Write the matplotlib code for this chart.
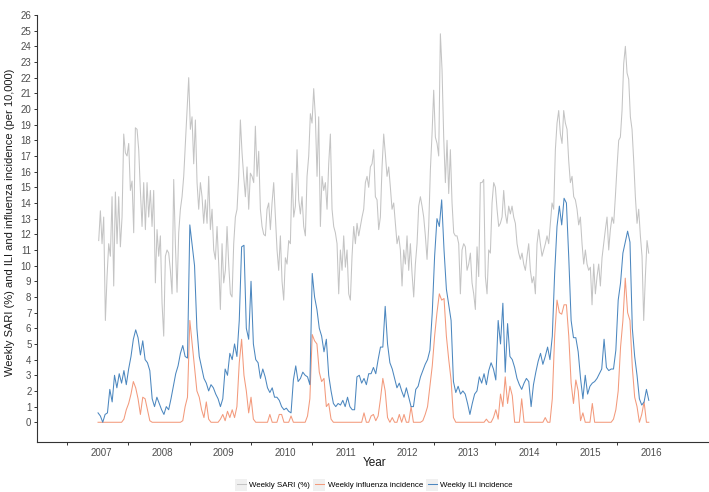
import matplotlib
matplotlib.use("Agg")
import matplotlib.pyplot as plt
from matplotlib.legend_handler import HandlerLine2D
from matplotlib.patches import Rectangle
import numpy as np

plt.rcParams['font.family'] = ['Liberation Sans', 'DejaVu Sans']

years = list(range(2007, 2017))

sari = [
    11.6, 13.5, 11.4, 13.1, 6.5, 9.3, 11.4, 10.6, 14.4, 8.7,
    14.7, 11.4, 14.4, 11.2, 13.1, 18.4, 17.2, 17.0, 17.8, 14.8,
    15.4, 12.1, 18.8, 18.7, 17.4, 14.8, 12.5, 15.3, 12.3, 15.3,
    13.1, 14.8, 12.5, 14.8, 8.9, 12.3, 10.6, 11.9, 7.6, 5.5,
    10.6, 11.0, 10.8, 9.7, 8.2, 15.5, 11.4, 8.3, 12.1, 13.6,
    14.4, 15.7, 17.8, 19.9, 22.0, 18.7, 19.5, 16.5, 19.3, 15.3,
    13.6, 15.3, 14.4, 12.7, 14.2, 12.7, 15.7, 12.3, 13.6, 11.0,
    10.4, 12.5, 10.1, 7.2, 11.4, 8.9, 9.7, 12.5, 10.1, 8.2,
    8.0, 11.4, 13.1, 13.6, 15.7, 19.3, 17.2, 15.7, 14.4, 16.3,
    13.6, 15.9, 15.7, 15.3, 18.9, 15.7, 17.3, 13.6, 12.5, 12.0,
    11.9, 13.6, 14.0, 12.3, 14.0, 15.3, 13.1, 11.0, 9.7, 11.9,
    9.0,
    7.8, 10.5, 10.1, 11.6, 11.4, 15.9, 13.1, 13.8, 17.4, 14.2,
    13.3, 14.4, 12.5, 11.9, 15.7, 17.0, 19.7, 19.1, 21.3, 19.5,
    15.7, 19.5, 12.5, 15.7, 14.8, 15.3, 13.6, 16.5, 18.4, 13.6,
    12.5, 12.1, 11.4, 8.2, 11.0, 9.7, 11.9, 9.9, 11.0, 8.2,
    7.8, 10.6, 12.5, 11.4, 12.7, 11.9, 12.5, 13.1, 13.6, 15.3,
    15.7, 15.0, 16.3, 16.5, 17.4, 14.4, 14.2, 12.3, 13.1, 16.3,
    18.4, 17.1, 15.7, 16.3, 15.0, 13.6, 14.0, 12.7, 11.4, 11.9,
    11.0, 8.7, 11.0, 10.1, 11.9, 9.7, 11.4, 9.5, 8.0, 10.1,
    11.4, 13.8, 14.4, 13.8, 13.1, 11.9, 10.4, 12.5, 16.1, 18.4,
    21.2, 18.2, 17.8, 17.0, 24.8, 22.5, 18.2, 15.3, 18.0, 14.6,
    17.4, 14.0, 12.1, 11.9, 11.9, 11.4, 8.2, 11.0, 11.4, 11.2,
    9.7,
    10.1, 10.8, 8.9, 8.2, 7.2, 11.2, 9.3, 15.3, 15.3, 15.5,
    9.3, 8.2, 11.0, 10.8, 14.0, 15.3, 15.0, 13.6, 12.5, 12.7,
    13.1, 14.8, 13.3, 12.7, 13.8, 13.3, 13.8, 13.1, 12.7, 11.4,
    10.8, 10.4, 10.8, 10.1, 9.7, 10.6, 11.4, 9.7, 8.9, 9.3,
    8.2, 11.4, 12.3, 11.4, 10.6, 11.0, 11.4, 11.9, 11.4, 12.7,
    14.0, 13.6, 17.4, 19.1, 19.9, 18.4, 17.8, 19.9, 19.1, 18.7,
    16.7, 15.3, 15.7, 14.4, 14.2, 13.6, 12.6, 13.1, 11.4, 10.1,
    11.0, 10.1, 9.7, 9.9, 7.5, 10.1, 8.2, 9.3, 10.1, 8.7,
    10.5, 11.4, 12.3, 13.1, 11.0, 12.3, 13.1, 12.7, 14.4, 16.3,
    18.0, 18.2, 19.9, 22.9, 24.0, 22.3, 21.9, 19.5, 18.7, 16.7,
    14.4, 12.7, 13.6, 11.9, 10.6, 6.5, 9.3, 11.6, 10.8,
]

flu = [
    0, 0, 0, 0, 0, 0, 0, 0, 0, 0, 0, 0.2, 0.8, 1.2, 1.8, 2.6, 2.2, 1.5, 0.5, 1.6, 1.5, 0.8, 0.1, 0, 0, 0,
    0, 0, 0, 0, 0, 0, 0, 0, 0, 0, 0.1, 1.0, 1.6, 6.5, 5.0, 3.5, 2.0, 1.6, 0.8, 0.3, 1.3, 0.2, 0, 0, 0, 0,
    0.2, 0.5, 0.1, 0.7, 0.3, 0.8, 0.3, 1.0, 3.8, 5.3, 3.0, 2.0, 0.6, 1.6, 0.2, 0, 0, 0, 0, 0, 0, 0.5, 0, 0, 0, 0.5,
    0.5, 0, 0, 0, 0.4, 0, 0, 0, 0, 0, 0, 0.4, 1.5, 5.6, 5.2, 5.0, 3.2, 2.6, 2.8, 1.0, 1.2, 0.2, 0, 0, 0, 0,
    0, 0, 0, 0, 0, 0, 0, 0, 0, 0.6, 0, 0, 0.4, 0.5, 0.1, 0.4, 1.5, 2.8, 2.0, 0.3, 0, 0.3, 0, 0, 0.5, 0,
    0.5, 0, 0, 1.0, 0, 0, 0, 0, 0.1, 0.5, 1.0, 2.3, 3.6, 5.5, 7.0, 8.2, 7.8, 7.9, 5.5, 4.0, 2.7, 0.3, 0, 0, 0, 0,
    0, 0, 0, 0, 0, 0, 0, 0, 0, 0.2, 0, 0, 0.3, 0.8, 0.2, 1.8, 1.0, 2.9, 1.2, 2.3, 1.7, 0, 0, 0, 1.5, 0,
    0, 0, 0, 0, 0, 0, 0, 0, 0.3, 0, 0, 1.5, 5.5, 7.8, 7.0, 6.9, 7.5, 7.5, 5.5, 2.5, 1.2, 2.7, 2.0, 0.1, 0.6, 0,
    0, 0, 1.2, 0, 0, 0, 0, 0, 0, 0, 0, 0.2, 0.8, 2.0, 4.8, 6.5, 9.2, 7.0, 6.5, 3.5, 1.6, 1.0, 0, 0.5, 1.3, 0, 0,
]

ili = [
    0.6, 0.4, 0.0, 0.5, 0.6, 2.1, 1.3, 3.0, 2.2, 3.1, 2.5, 3.3, 2.4, 3.4, 4.2, 5.3, 5.9, 5.4, 4.3, 5.2, 4.0, 3.8, 3.3, 1.5, 1.0, 1.6,
    1.2, 0.8, 0.5, 1.0, 0.8, 1.5, 2.3, 3.1, 3.6, 4.4, 4.9, 4.2, 4.1, 12.6, 11.3, 10.0, 6.0, 4.2, 3.5, 2.8, 2.5, 2.0, 2.4, 2.2, 1.8, 1.5,
    1.0, 1.5, 3.4, 3.0, 4.4, 4.0, 5.0, 4.2, 6.5, 11.2, 11.3, 6.0, 5.3, 9.0, 5.0, 4.0, 3.8, 2.8, 3.4, 2.9, 2.2, 1.9, 2.2, 1.6, 1.6, 1.4,
    1.0, 0.8, 0.9, 0.7, 0.6, 2.7, 3.6, 2.6, 2.8, 3.2, 3.0, 2.9, 2.4, 9.5, 8.0, 7.2, 6.0, 5.5, 4.5, 5.3, 3.0, 2.0, 1.2, 1.0, 1.2, 1.1,
    1.4, 1.0, 1.6, 1.0, 0.8, 0.8, 2.9, 3.0, 2.5, 2.8, 2.4, 3.1, 3.1, 3.5, 3.1, 4.0, 4.8, 4.8, 7.4, 5.0, 3.8, 3.4, 2.8, 2.2, 2.5, 2.0,
    1.6, 2.2, 1.6, 1.0, 1.0, 2.1, 2.3, 2.9, 3.3, 3.7, 4.0, 4.6, 7.0, 10.6, 13.0, 12.5, 14.2, 11.0, 8.5, 7.5, 6.5, 2.6, 1.9, 2.3, 1.8, 2.0,
    1.8, 1.2, 0.5, 1.2, 1.8, 2.0, 2.9, 2.5, 3.1, 2.4, 3.3, 3.8, 3.4, 2.7, 6.5, 5.0, 7.6, 3.2, 6.3, 4.2, 4.0, 3.5, 2.8, 2.4, 2.1, 2.5,
    2.8, 2.6, 1.0, 2.4, 3.2, 3.9, 4.4, 3.7, 4.2, 4.8, 4.0, 5.5, 9.5, 12.5, 13.8, 12.6, 14.3, 14.0, 10.5, 6.5, 5.4, 5.4, 4.5, 2.8, 1.5, 3.0,
    1.8, 2.3, 2.5, 2.6, 2.8, 3.1, 3.4, 5.3, 3.5, 3.3, 3.4, 3.4, 4.6, 7.8, 8.9, 10.8, 11.5, 12.2, 11.5, 6.0, 4.2, 3.0, 1.5, 1.1, 1.3, 2.1, 1.4,
]

# sample positions in decimal years
x_sari = 2006.954 + (9.963 / 365.25) * np.arange(len(sari))
n = min(len(flu), len(ili))
x_inc = 2006.943 + (14.07 / 365.25) * np.arange(n)


class KeyBackground(HandlerLine2D):
    # ggplot style grey key box behind each legend line
    def create_artists(self, legend, orig_handle, xdescent, ydescent, width, height, fontsize, trans):
        arts = super().create_artists(legend, orig_handle, xdescent, ydescent, width, height, fontsize, trans)
        line = arts[0]
        npts = len(line.get_ydata())
        line.set_xdata(np.linspace(-xdescent + 0.12 * width, -xdescent + 0.88 * width, npts))
        bg = Rectangle((-xdescent, -ydescent - 0.25 * height), width, height * 1.5,
                       facecolor='#F0F0F0', edgecolor='none', transform=trans)
        return [bg] + arts


fig = plt.figure(figsize=(7.09, 4.92), dpi=100)
ax = fig.add_axes([37 / 709, 1 - 441.7 / 492, (708 - 37) / 709, (441.7 - 15) / 492])

ax.plot(x_sari, sari, color='#C4C4C4', lw=0.75, label='Weekly SARI (%)')
ax.plot(x_inc, flu[:n], color='#F39A7C', lw=0.75, label='Weekly influenza incidence')
ax.plot(x_inc, ili[:n], color='#4C87BF', lw=0.75, label='Weekly ILI incidence')

ax.set_xlim(2005.944, 2016.926)
ax.set_ylim(-1.24, 26)
ax.set_yticks(range(0, 27))
ax.set_xticks([y - 0.56 for y in years])
ax.set_xticklabels([])
ax.set_xticks(years, minor=True)
ax.set_xticklabels([str(y) for y in years], minor=True)

ax.tick_params(axis='x', which='minor', length=0, pad=4.5, labelsize=7, labelcolor='#4D4D4D')
ax.tick_params(axis='x', which='major', length=2.5, width=0.7, color='#333333')
ax.tick_params(axis='y', length=2.5, width=0.7, color='#333333', pad=1.5, labelsize=7, labelcolor='#4D4D4D')

for side in ['top', 'right']:
    ax.spines[side].set_visible(False)
for side in ['left', 'bottom']:
    ax.spines[side].set_linewidth(0.8)
    ax.spines[side].set_color('#333333')

fig.text(10 / 709, 1 - 222.5 / 492, 'Weekly SARI (%) and ILI and influenza incidence (per 10,000)',
         rotation=90, ha='center', va='center', fontsize=8, color='#1A1A1A')
fig.text(375 / 709, 1 - 463 / 492, 'Year', ha='center', va='center', fontsize=8.5, color='#1A1A1A')

handles, labels = ax.get_legend_handles_labels()
fig.legend(handles, labels, loc='center', bbox_to_anchor=(374 / 709, 1 - 485 / 492), ncol=3,
           frameon=False, fontsize=5.7, handlelength=1.5, handleheight=1.2, handletextpad=0.3,
           columnspacing=0.4, borderpad=0, handler_map={plt.Line2D: KeyBackground()})

fig.savefig('out.png', dpi=100)
